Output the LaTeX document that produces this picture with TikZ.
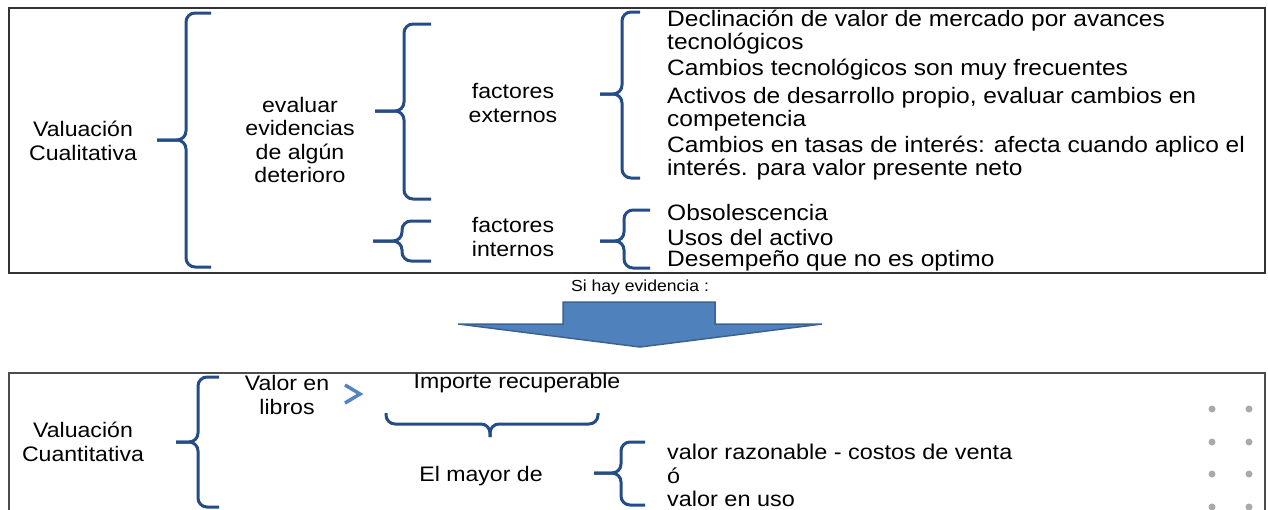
\documentclass[tikz,border=0pt]{standalone}
\usepackage{fontspec}
\setmainfont{Liberation Sans}[FakeStretch=1.1]
\definecolor{brcol}{RGB}{38,76,135}
\definecolor{chev}{RGB}{84,130,196}
\definecolor{arrfill}{RGB}{79,129,189}
\definecolor{arrdraw}{RGB}{60,98,146}
\definecolor{dotcol}{RGB}{170,170,170}
\newcommand\BraceL[6]{%
  \draw[brc] (#4,#5) -- (#3,#5) -- (#3,#2) -- (#1,#2);
  \draw[brc] (#4,#6) -- (#3,#6) -- (#3,#2) -- (#1,#2);}
\begin{document}
\begin{tikzpicture}[x=1pt,y=-1pt,
  brc/.style={draw=brcol,line width=3pt,rounded corners=9pt},
  frame/.style={draw=black!80,line width=2pt},
  lbl/.style={inner sep=0pt,align=center,font=\fontsize{21}{23.5}\selectfont},
  item/.style={inner sep=0pt,anchor=west,align=left,font=\fontsize{22.3}{23.5}\selectfont},
  bitem/.style={inner sep=0pt,anchor=west,align=left,font=\fontsize{21.3}{23.5}\selectfont}]
\useasboundingbox (0,0) rectangle (1268,509);
% top box
\draw[frame] (9,8) rectangle (1265,273);
\node[lbl] (cual) at (83,141) {Valuación\\Cualitativa};
\node[lbl] (eval) at (300,140) {evaluar\\evidencias\\de algún\\deterioro};
\node[lbl] (ext) at (513,103) {factores\\externos};
\node[lbl] (int) at (513,237) {factores\\internos};
\node[item] (d1) at (667,32) {Declinación de valor de mercado por avances\\tecnológicos};
\node[item] (d2) at (667,69.5) {Cambios tecnológicos son muy frecuentes};
\node[item] (d3) at (667,109) {Activos de desarrollo propio, evaluar cambios en\\competencia};
\node[item] (d4) at (667,158) {Cambios en tasas de interés: afecta cuando aplico el\\interés. para valor presente neto};
\node[item] (i1) at (667,212.5) {Obsolescencia};
\node[item] (i2) at (667,237.5) {Usos del activo};
\node[item] (i3) at (667,261) {Desempeño que no es optimo};
% braces top
\BraceL{157}{140}{186}{211}{13}{267}
\BraceL{375}{111}{404}{431}{24}{199}
\BraceL{600}{94}{622}{640}{12}{178}
\BraceL{373}{241}{402}{431}{221}{261}
\BraceL{600}{241}{624}{650}{210}{268}
% arrow
\node[inner sep=0pt,font=\fontsize{16}{18}\selectfont] (si) at (640,287) {Si hay evidencia :};
\draw[fill=arrfill,draw=arrdraw,line width=1.5pt,line join=miter]
  (563,302) -- (715,302) -- (715,324) -- (822,324) -- (640,347) -- (458,324) -- (563,324) -- cycle;
% bottom box
\draw[frame,draw=black!70] (9,530) -- (9,373) -- (1265,373) -- (1265,530);
\node[lbl] (cuant) at (83,442) {Valuación\\Cuantitativa};
\node[lbl] (libros) at (287,395) {Valor en\\libros};
\node[lbl] (imp) at (517,383) {Importe recuperable};
\node[lbl] (mayor) at (481,476) {El mayor de};
\node[bitem] (v1) at (667,452) {valor razonable - costos de venta};
\node[bitem] (v2) at (667,476) {ó};
\node[bitem] (v3) at (667,499) {valor en uso};
\BraceL{176}{442}{198}{219}{377}{507}
\BraceL{594}{473}{621}{645}{442}{505}
\draw[brc] (386,413) -- (386,424) -- (490,424) -- (490,437);
\draw[brc] (598,413) -- (598,424) -- (490,424) -- (490,437);
\draw[draw=chev,line width=3.5pt,line join=miter] (345,385) -- (360,394) -- (345,403);
% dots
\foreach \yy in {409,442,474,507}{
  \fill[dotcol] (1212,\yy) circle (3.5);
  \fill[dotcol] (1249,\yy) circle (3.5);}
\end{tikzpicture}
\end{document}
